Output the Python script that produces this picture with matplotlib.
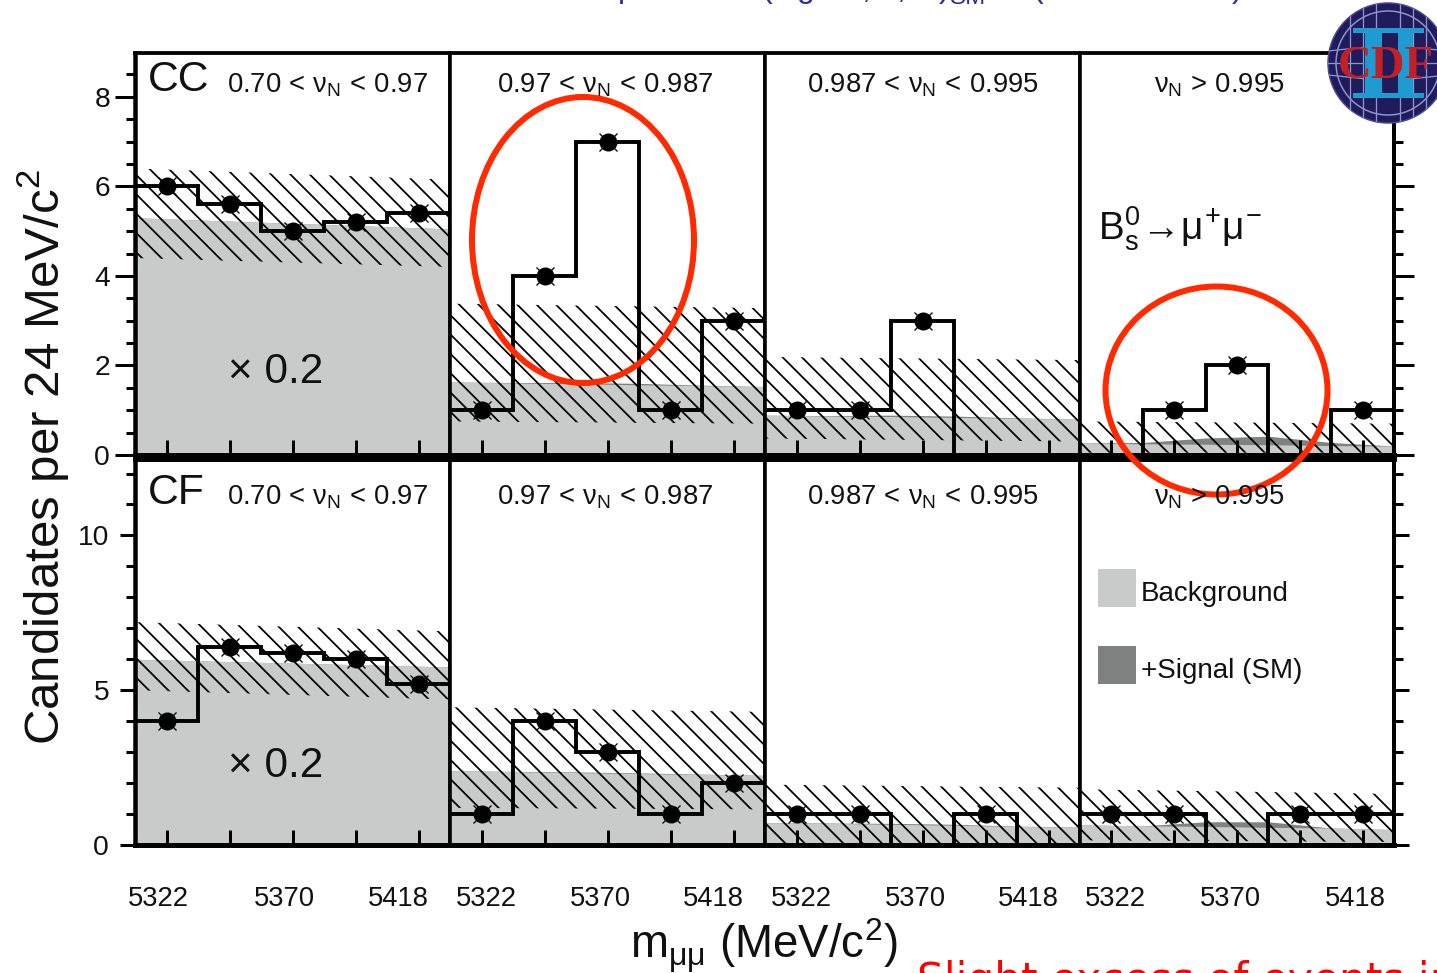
import numpy as np
import matplotlib
matplotlib.use("Agg")
import matplotlib.pyplot as plt
from matplotlib.patches import Circle, Ellipse, Rectangle
from matplotlib.ticker import MultipleLocator, NullLocator, FixedLocator, FixedFormatter
from matplotlib.transforms import ScaledTranslation

W, H, DPI = 1437, 973, 116
plt.rcParams.update({
    "font.family": ["Liberation Sans", "DejaVu Sans"],
    "mathtext.fontset": "custom",
    "mathtext.rm": "Liberation Sans",
    "mathtext.it": "Liberation Sans",
    "mathtext.bf": "Liberation Sans:bold",
    "mathtext.fallback": "stixsans",
    "hatch.linewidth": 1.1,
})
PX = 72 / DPI  # one pixel in points

# ---- data -----------------------------------------------------------------
bin_edges = [5310, 5334, 5358, 5382, 5406, 5430]
bin_centers = [5322, 5346, 5370, 5394, 5418]
xtick_labels = ["5322", "5370", "5418"]
xtick_values = [5322, 5370, 5418]

nu_labels = [r"0.70$\,<\,\nu_{\mathregular{N}}\,<\,$0.97",
             r"0.97$\,<\,\nu_{\mathregular{N}}\,<\,$0.987",
             r"0.987$\,<\,\nu_{\mathregular{N}}\,<\,$0.995",
             r"$\nu_{\mathregular{N}}\,>\,$0.995"]

cc_counts = [[6, 5.6, 5, 5.2, 5.4], [1, 4, 7, 1, 3], [1, 1, 3, 0, 0], [0, 1, 2, 0, 1]]
cf_counts = [[4, 6.4, 6.2, 6, 5.2], [1, 4, 3, 1, 2], [1, 1, 0, 1, 0], [1, 1, 0, 1, 1]]

cc_bg = [[5.3, 5.25, 5.2, 5.15, 5.1, 5.05], [1.63, 1.61, 1.59, 1.57, 1.55, 1.53],
         [0.89, 0.87, 0.86, 0.84, 0.82, 0.8], [0.27, 0.25, 0.24, 0.23, 0.21, 0.2]]
cc_total = [[5.3, 5.25, 5.2, 5.15, 5.1, 5.05], [1.63, 1.62, 1.62, 1.6, 1.56, 1.53],
            [0.89, 0.88, 0.89, 0.87, 0.83, 0.8], [0.27, 0.28, 0.38, 0.42, 0.28, 0.2]]
cf_bg = [[6.0, 5.95, 5.9, 5.85, 5.8, 5.75], [2.4, 2.37, 2.34, 2.31, 2.28, 2.25],
         [0.72, 0.7, 0.67, 0.64, 0.6, 0.58], [0.65, 0.62, 0.6, 0.57, 0.55, 0.5]]
cf_total = [[6.0, 5.95, 5.9, 5.85, 5.8, 5.75], [2.4, 2.38, 2.36, 2.33, 2.29, 2.25],
            [0.72, 0.71, 0.7, 0.67, 0.61, 0.58], [0.65, 0.62, 0.75, 0.75, 0.55, 0.5]]

# hatched uncertainty band, values at the left and right panel edges
band_edges = [5310, 5430]
cc_band_hi = [[6.4, 6.15], [3.38, 3.28], [2.19, 2.12], [0.75, 0.7]]
cc_band_lo = [[4.4, 4.2], [0.75, 0.7], [0.37, 0.3], [0.05, 0.05]]
cf_band_hi = [[7.2, 6.9], [4.45, 4.3], [1.95, 1.85], [1.8, 1.65]]
cf_band_lo = [[5.0, 4.7], [1.2, 1.15], [0.05, 0.05], [0.15, 0.1]]

ylim_cc = 8.98
ylim_cf = 12.47

# ---- colours --------------------------------------------------------------
BG = "#c9cbca"
SIG = "#808281"
RED = "#ff2a00"

# ---- layout ---------------------------------------------------------------
fig = plt.figure(figsize=((W + 0.01) / DPI, (H + 0.01) / DPI), dpi=DPI, facecolor="white")
panel_x = [135, 450, 765, 1080, 1394]
rows = [(53, 455, ylim_cc, 2, 0.5, cc_counts, cc_bg, cc_total, cc_band_hi, cc_band_lo),
        (459, 845, ylim_cf, 5, 1, cf_counts, cf_bg, cf_total, cf_band_hi, cf_band_lo)]
xtick_dx = [[-8, -8, -20], [5, -7, -20], [5, -7, -20], [4, -7, -7]]

for r, (ytop, ybot, ymax, maj, mnr, counts, bgv, total, hi, lo) in enumerate(rows):
    for i in range(4):
        ax = fig.add_axes([panel_x[i] / W, 1 - ybot / H,
                           (panel_x[i + 1] - panel_x[i]) / W, (ybot - ytop) / H])
        ax.set_xlim(bin_edges[0], bin_edges[-1])
        ax.set_ylim(0, ymax)
        ax.fill_between(bin_edges, 0, total[i], color=SIG, lw=0, zorder=1)
        ax.fill_between(bin_edges, 0, bgv[i], color=BG, lw=0, zorder=1.1)
        ax.fill_between(band_edges, lo[i], hi[i], facecolor="none", edgecolor="black",
                        hatch="\\\\", lw=0, zorder=1.2)
        ax.stairs(counts[i], bin_edges, baseline=None, color="black", lw=3.9 * PX, zorder=3)
        pts_x = [c for c, v in zip(bin_centers, counts[i]) if v > 0]
        pts_y = [v for v in counts[i] if v > 0]
        ax.plot(pts_x, pts_y, ls="none", marker="x", ms=17 * PX, mew=1.3 * PX, color="black", zorder=4)
        ax.plot(pts_x, pts_y, ls="none", marker="o", ms=18 * PX, mew=0, color="black", zorder=4)

        # spines
        for s in ax.spines.values():
            s.set_linewidth(3.6 * PX)
        ax.spines["bottom"].set_linewidth(5 * PX)
        ax.spines["top"].set_linewidth(3.8 * PX if r == 0 else 5 * PX)
        if i == 0:
            ax.spines["left"].set_linewidth(4.5 * PX)
        if i == 3:
            ax.spines["right"].set_linewidth(4 * PX)

        # x ticks
        ax.xaxis.set_major_locator(FixedLocator(xtick_values))
        ax.xaxis.set_minor_locator(FixedLocator([5346, 5394]))
        ax.tick_params(axis="x", which="both", direction="in", length=15 * PX, width=3 * PX, top=False)
        if r == 1:
            ax.xaxis.set_major_formatter(FixedFormatter(xtick_labels))
            ax.tick_params(axis="x", which="major", pad=41 * PX, labelsize=17, labelcolor="#111111")
            for lab, dx in zip(ax.get_xticklabels(), xtick_dx[i]):
                lab.set_transform(lab.get_transform() + ScaledTranslation(dx / DPI, 0, fig.dpi_scale_trans))
        else:
            ax.tick_params(axis="x", which="major", labelbottom=False)

        # y ticks
        ax.yaxis.set_major_locator(MultipleLocator(maj))
        ax.yaxis.set_minor_locator(MultipleLocator(mnr))
        major_len = 20 if r == 0 else 15
        if i == 0 or i == 3:
            ax.tick_params(axis="y", which="major", left=(i == 0), right=(i == 3), direction="out",
                           length=major_len * PX, width=3 * PX, labelleft=(i == 0),
                           labelsize=17.5, pad=(5 if r == 0 else 11) * PX, labelcolor="#111111")
            ax.tick_params(axis="y", which="minor", left=(i == 0), right=(i == 3), direction="out",
                           length=9 * PX, width=3 * PX)
        else:
            ax.yaxis.set_major_locator(NullLocator())
            ax.yaxis.set_minor_locator(NullLocator())

# ---- annotations in pixel coordinates --------------------------------------
ov = fig.add_axes([0, 0, 1, 1], zorder=10)
ov.set_xlim(0, W)
ov.set_ylim(H, 0)
ov.axis("off")
ov.patch.set_alpha(0)

def label(x, y, s, size, ha="left", va="baseline", **kw):
    kw.setdefault("color", "#111111")
    return ov.text(x, y, s, fontsize=size, ha=ha, va=va, clip_on=False, **kw)

nu_x = [327, 605, 923, 1219]
for nx, s in zip(nu_x, nu_labels):
    label(nx, 92, s, 17, ha="center")
    label(nx, 504, s, 17, ha="center")

label(148, 91, "CC", 26.5)
label(148, 504, "CF", 26.5)
label(228, 383, "× 0.2", 26.3)
label(228, 777, "× 0.2", 26.3)
label(1098, 240, r"B$_{\mathregular{s}}^{\mathregular{0}}\!\rightarrow\!\mu^{+}\mu^{-}$", 24)

ov.add_patch(Rectangle((1098, 569), 38, 38, fc=BG, lw=0))
ov.add_patch(Rectangle((1098, 646), 38, 38, fc=SIG, lw=0))
label(1141, 601, "Background", 17.2)
label(1141, 678, "+Signal (SM)", 17.2)

label(43, 457, r"Candidates per 24 MeV/c$^{2}$", 30.6, ha="center", va="center", rotation=90, rotation_mode="anchor")
label(630, 959, r"m$_{\mu\mu}$ (MeV/c$^{2}$)", 28.3)

# red hand-drawn ellipses
ov.add_patch(Ellipse((583, 240), 222, 286, fc="none", ec=RED, lw=6 * PX))
ov.add_patch(Ellipse((1216.5, 390.5), 222, 208, fc="none", ec=RED, lw=6 * PX))

# clipped slide text at the figure edges
label(917, 993, "Slight excess of events in", 26.2, color="#ff0000", family="DejaVu Sans")
for fx, fy, ch in [(618, -3, "p"), (762, -3, "("), (797, -3, "g"), (861, -2, ","), (896, -2, ","),
                   (939, -3, ")"), (1033, -3, "("), (1232, -3, ")")]:
    label(fx, fy, ch, 20, color="#2e2e9c")
label(950, 4, "SM", 15, color="#2e2e9c")

# CDF logo
cx, cy, rad = 1388, 63, 60
NAVY, BLUE, GRID = "#201c5c", "#1e9bd0", "#8f94d0"
disc = Circle((cx, cy), rad, fc=NAVY, ec="#4a4a8c", lw=1.5 * PX, zorder=5)
ov.add_patch(disc)
ov.add_patch(Circle((cx, cy), 52, fc="none", ec=GRID, lw=1.5 * PX, zorder=5.1))
for dx in (-38, -25, -12, 12, 25, 38):
    ln, = ov.plot([cx + dx, cx + dx], [cy - rad, cy + rad], color=GRID, lw=1.3 * PX, zorder=5.1)
    ln.set_clip_path(disc)
for dy in (-12, 0, 12):
    ln, = ov.plot([cx - rad, cx - 25], [cy + dy, cy + dy * 1.3], color=GRID, lw=1.3 * PX, zorder=5.1)
    ln.set_clip_path(disc)
    ln, = ov.plot([cx + 25, cx + rad], [cy + dy * 1.3, cy + dy], color=GRID, lw=1.3 * PX, zorder=5.1)
    ln.set_clip_path(disc)
for rx, ry, rw, rh in [(1353, 28, 71, 5), (1353, 93, 71, 5), (1365, 33, 17, 60), (1398, 33, 15, 60)]:
    ov.add_patch(Rectangle((rx, ry), rw, rh, fc=BLUE, lw=0, zorder=5.2))
label(1386, 78, "CDF", 29, ha="center", family="Liberation Serif", weight="bold", color="#c02026", zorder=5.3)

fig.savefig("out.png", dpi=DPI, facecolor="white")
